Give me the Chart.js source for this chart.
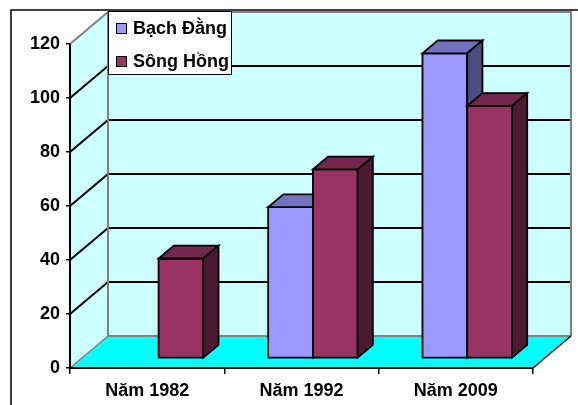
<!DOCTYPE html>
<html>
<head>
<meta charset="utf-8">
<script src="https://cdn.jsdelivr.net/npm/chart.js@4/dist/chart.umd.min.js"></script>
<style>
  html, body { margin: 0; padding: 0; background: #ffffff; }
  #wrap { width: 578px; height: 405px; position: relative; }
</style>
</head>
<body>
<div id="wrap"><canvas id="c" width="578" height="405"></canvas></div>
<script>
// Data
const categories = ['Năm 1982', 'Năm 1992', 'Năm 2009'];
const bachDang = [null, 56, 113];
const songHong = [37, 70, 93.5];
const seriesNames = ['Bạch Đằng', 'Sông Hồng'];
const yMin = 0, yMax = 120, yStep = 20;

// Styling
const FRONT = ['#9999FF', '#993366'];
const TOP = ['#7373BF', '#73264D'];
const SIDE = ['#4D4D80', '#4D1A33'];
const WALL = '#CCFFFF';
const FLOOR = '#00FFFF';
const EDGE = '#808080';
const DEPTH_X = 38, DEPTH_Y = 32;      // depth of the 3D plot box
const BAR_NEAR = 0.3, BAR_FAR = 0.7;   // bar depth inside the box
const FONT = '"Liberation Sans", Arial, sans-serif';

function poly(ctx, pts) {
  ctx.beginPath();
  ctx.moveTo(pts[0][0], pts[0][1]);
  for (let k = 1; k < pts.length; k++) ctx.lineTo(pts[k][0], pts[k][1]);
  ctx.closePath();
}
function line(ctx, pts, color, w) {
  ctx.beginPath();
  ctx.moveTo(pts[0][0], pts[0][1]);
  for (let k = 1; k < pts.length; k++) ctx.lineTo(pts[k][0], pts[k][1]);
  ctx.strokeStyle = color;
  ctx.lineWidth = w;
  ctx.stroke();
}

// Draws the walls, floor, gridlines and the 3D bars from the bar elements
const box3d = {
  id: 'box3d',
  beforeDatasetsDraw(chart) {
    const { ctx, chartArea: a, scales: { x, y } } = chart;
    const dx = DEPTH_X, dy = DEPTH_Y;
    const yT = y.getPixelForValue(yMax);
    const y0 = y.getPixelForValue(yMin);
    ctx.save();
    ctx.lineJoin = 'miter';

    // side wall and back wall
    ctx.fillStyle = WALL;
    poly(ctx, [[a.left, yT], [a.left + dx, yT - dy], [a.left + dx, y0 - dy], [a.left, y0]]);
    ctx.fill();
    ctx.fillRect(a.left + dx, yT - dy, a.right - a.left, y0 - yT);
    // floor
    ctx.fillStyle = FLOOR;
    poly(ctx, [[a.left, y0], [a.right, y0], [a.right + dx, y0 - dy], [a.left + dx, y0 - dy]]);
    ctx.fill();

    // gridlines on the walls
    for (let v = yMin + yStep; v < yMax; v += yStep) {
      const py = y.getPixelForValue(v);
      line(ctx, [[a.left, py], [a.left + dx, py - dy], [a.right + dx, py - dy]], '#000000', 2);
    }
    // wall edges
    line(ctx, [[a.left, yT], [a.left + dx, yT - dy], [a.right + dx, yT - dy], [a.right + dx, y0 - dy]], EDGE, 2);
    line(ctx, [[a.left + dx, yT - dy], [a.left + dx, y0 - dy], [a.right + dx, y0 - dy]], EDGE, 2);
    line(ctx, [[a.left, y0], [a.left + dx, y0 - dy]], EDGE, 1.5);
    line(ctx, [[a.right, y0], [a.right + dx, y0 - dy]], '#000000', 1.5);

    // bars, category by category, series left to right
    const ox = BAR_NEAR * dx, oy = BAR_NEAR * dy;
    const bw = (BAR_FAR - BAR_NEAR) * dx, bh = (BAR_FAR - BAR_NEAR) * dy;
    for (let j = 0; j < categories.length; j++) {
      chart.data.datasets.forEach((ds, i) => {
        const v = ds.data[j];
        if (v === null || v === undefined) return;
        const el = chart.getDatasetMeta(i).data[j];
        const L = el.x - el.width / 2 + ox, R = el.x + el.width / 2 + ox;
        const T = el.y - oy, B = el.base - oy;
        ctx.strokeStyle = '#000000';
        ctx.lineWidth = 1.8;
        ctx.fillStyle = FRONT[i];
        poly(ctx, [[L, T], [R, T], [R, B], [L, B]]);
        ctx.fill(); ctx.stroke();
        ctx.fillStyle = TOP[i];
        poly(ctx, [[L, T], [R, T], [R + bw, T - bh], [L + bw, T - bh]]);
        ctx.fill(); ctx.stroke();
        ctx.fillStyle = SIDE[i];
        poly(ctx, [[R, T], [R + bw, T - bh], [R + bw, B - bh], [R, B]]);
        ctx.fill(); ctx.stroke();
      });
    }

    // front axis lines
    line(ctx, [[a.left, yT], [a.left, y0], [a.right, y0]], '#000000', 2);
    ctx.restore();
    return false;
  },
  afterDraw(chart) {
    const { ctx } = chart;
    ctx.save();
    // legend
    const lx = 108.5, ly = 11.5, lw = 123, lh = 63;
    ctx.fillStyle = '#ffffff';
    ctx.fillRect(lx, ly, lw, lh);
    ctx.strokeStyle = '#000000';
    ctx.lineWidth = 1;
    ctx.strokeRect(lx, ly, lw, lh);
    ctx.font = 'bold 18px ' + FONT;
    ctx.textBaseline = 'middle';
    ctx.textAlign = 'left';
    chart.data.datasets.forEach((ds, i) => {
      const cy = 28.5 + i * 33;
      ctx.fillStyle = FRONT[i];
      ctx.fillRect(116.5, cy - 5, 10, 10);
      ctx.strokeStyle = '#000000';
      ctx.strokeRect(116.5, cy - 5, 10, 10);
      ctx.fillStyle = '#000000';
      ctx.fillText(ds.label, 133, cy + 1);
    });
    // outer frame
    ctx.lineWidth = 1.5;
    ctx.strokeRect(11, 10, 700, 500);
    ctx.restore();
  }
};

new Chart(document.getElementById('c'), {
  type: 'bar',
  data: {
    labels: categories,
    datasets: [
      { label: seriesNames[0], data: bachDang, backgroundColor: FRONT[0] },
      { label: seriesNames[1], data: songHong, backgroundColor: FRONT[1] }
    ]
  },
  options: {
    responsive: false,
    animation: false,
    devicePixelRatio: 1,
    categoryPercentage: 0.58,
    barPercentage: 1,
    layout: { padding: { top: 44, right: 45, left: 0, bottom: 0 } },
    plugins: { legend: { display: false }, tooltip: { enabled: false } },
    scales: {
      x: {
        afterFit: s => { s.height = 37; },
        border: { display: false },
        grid: { drawOnChartArea: false, drawTicks: true, tickLength: 6, color: '#000000', lineWidth: 1.5, offset: true },
        ticks: { color: '#000000', font: { family: FONT, size: 18, weight: 'bold' }, padding: 6, maxRotation: 0 }
      },
      y: {
        min: yMin, max: yMax,
        afterFit: s => { s.width = 70; },
        border: { display: false },
        grid: { drawOnChartArea: false, drawTicks: true, tickLength: 4, color: '#000000', lineWidth: 1.5 },
        ticks: { stepSize: yStep, color: '#000000', font: { family: FONT, size: 18, weight: 'bold' }, padding: 6 }
      }
    }
  },
  plugins: [box3d]
});
</script>
</body>
</html>
